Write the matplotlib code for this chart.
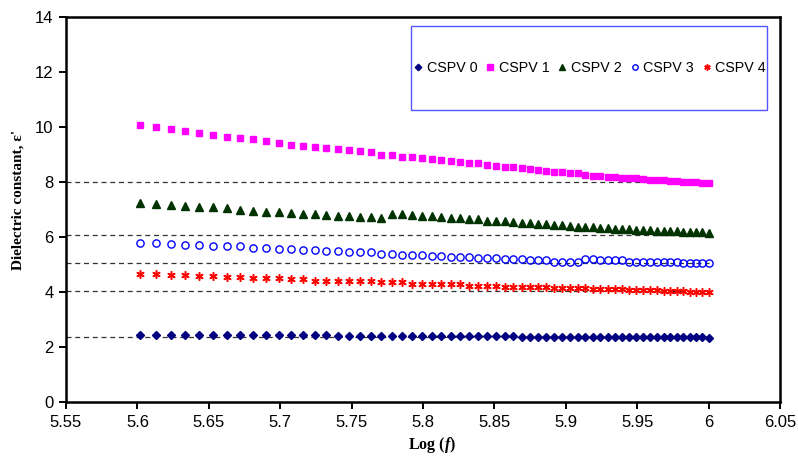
import numpy as np
import matplotlib
matplotlib.use("Agg")
import matplotlib.pyplot as plt
from matplotlib.patches import Rectangle

plt.rcParams["font.family"] = ["Liberation Sans", "DejaVu Sans"]
plt.rcParams["mathtext.fontset"] = "custom"
plt.rcParams["mathtext.it"] = "Liberation Serif:italic:bold"
plt.rcParams["mathtext.rm"] = "Liberation Serif:bold"

# measurement frequencies (kHz)
freq_khz = [400, 410, 420, 430, 440, 450, 460, 470, 480, 490,
            500, 510, 520, 530, 540, 550, 560, 570, 580, 590,
            600, 610, 620, 630, 640, 650, 660, 670, 680, 690,
            700, 710, 720, 730, 740, 750, 760, 770, 780, 790,
            800, 810, 820, 830, 840, 850, 860, 870, 880, 890,
            900, 910, 920, 930, 940, 950, 960, 970, 980, 990, 1000]

cspv0 = [2.44] * 15 + [2.40] * 19 + [2.36] * 26 + [2.32]
cspv1 = [10.05, 10.00, 9.93, 9.84, 9.76, 9.72, 9.64, 9.59, 9.55, 9.48,
         9.43, 9.36, 9.32, 9.28, 9.23, 9.19, 9.15, 9.11, 9.08, 8.99,
         8.99, 8.91, 8.91, 8.86, 8.82, 8.79, 8.75, 8.71, 8.68, 8.68,
         8.63, 8.57, 8.55, 8.55, 8.50, 8.46, 8.42, 8.39, 8.37, 8.35,
         8.31, 8.31, 8.26, 8.23, 8.23, 8.19, 8.19, 8.16, 8.16, 8.13,
         8.12, 8.07, 8.07, 8.07, 8.04, 8.04, 7.99, 7.99, 7.99, 7.95, 7.95]
cspv2 = [7.24, 7.20, 7.15, 7.11, 7.08, 7.08, 7.04, 7.00, 6.96, 6.92,
         6.92, 6.87, 6.84, 6.84, 6.79, 6.75, 6.75, 6.71, 6.71, 6.68,
         6.85, 6.85, 6.80, 6.77, 6.77, 6.73, 6.69, 6.69, 6.65, 6.65,
         6.60, 6.60, 6.57, 6.56, 6.51, 6.51, 6.48, 6.48, 6.45, 6.45,
         6.40, 6.36, 6.36, 6.36, 6.33, 6.33, 6.29, 6.29, 6.29, 6.24,
         6.24, 6.24, 6.22, 6.22, 6.22, 6.22, 6.17, 6.17, 6.17, 6.17, 6.15]
cspv3 = [5.80, 5.80, 5.76, 5.72, 5.72, 5.68, 5.68, 5.66, 5.61, 5.61,
         5.56, 5.56, 5.53, 5.53, 5.49, 5.48, 5.44, 5.44, 5.44, 5.40,
         5.40, 5.36, 5.36, 5.36, 5.32, 5.32, 5.28, 5.28, 5.28, 5.24,
         5.24, 5.24, 5.20, 5.19, 5.19, 5.15, 5.15, 5.15, 5.11, 5.11,
         5.11, 5.11, 5.20, 5.20, 5.17, 5.15, 5.15, 5.15, 5.11, 5.11,
         5.11, 5.11, 5.08, 5.08, 5.08, 5.08, 5.04, 5.04, 5.04, 5.04, 5.04]
cspv4 = [4.67, 4.67, 4.63, 4.63, 4.59, 4.59, 4.56, 4.56, 4.51, 4.51,
         4.51, 4.47, 4.47, 4.42, 4.42, 4.42, 4.39, 4.39, 4.39, 4.35,
         4.35, 4.35, 4.31, 4.31, 4.31, 4.28, 4.28, 4.28, 4.24, 4.24,
         4.24, 4.24, 4.20, 4.20, 4.20, 4.20, 4.20, 4.20, 4.16, 4.16,
         4.16, 4.16, 4.16, 4.13, 4.13, 4.13, 4.13, 4.11, 4.08, 4.08,
         4.08, 4.08, 4.08, 4.05, 4.05, 4.05, 4.05, 4.02, 4.02, 3.99, 3.99]

labels = ["CSPV 0", "CSPV 1", "CSPV 2", "CSPV 3", "CSPV 4"]
ref_levels = [8.0, 6.08, 5.05, 4.03, 2.37]   # dashed guide lines

logf = np.log10(np.array(freq_khz) * 1e3)

fig = plt.figure(figsize=(7.98, 4.65), dpi=100)
ax = fig.add_axes([0.0827, 0.1348, 0.8947, 0.8293])

for lv in ref_levels:
    ax.plot([5.55, 6.0], [lv, lv], color="#333333", lw=0.9,
            dashes=(4, 3), zorder=1)

h0, = ax.plot(logf, cspv0, "D", ms=4.4, color="#000080", ls="none", zorder=3)
h1, = ax.plot(logf, cspv1, "s", ms=5.0, color="#FF00FF", ls="none", zorder=3)
h2, = ax.plot(logf, cspv2, "^", ms=6.0, color="#003300", ls="none", zorder=3)
h3, = ax.plot(logf, cspv3, "o", ms=5.2, mfc="none", mec="#0000FF", mew=1.0,
              ls="none", zorder=3)
h4, = ax.plot(logf, cspv4, marker=(6, 2, 0), ms=6.0, color="#FF0000", mew=1.1,
              ls="none", zorder=3)

ax.set_xlim(5.55, 6.05)
ax.set_ylim(0, 14)
ax.set_xticks([5.55, 5.6, 5.65, 5.7, 5.75, 5.8, 5.85, 5.9, 5.95, 6.0, 6.05])
ax.set_xticklabels(["5.55", "5.6", "5.65", "5.7", "5.75", "5.8", "5.85",
                    "5.9", "5.95", "6", "6.05"])
ax.set_yticks(range(0, 15, 2))
ax.tick_params(direction="out", length=5, width=1.4, labelsize=12,
               pad=4)
for sp in ax.spines.values():
    sp.set_linewidth(1.8)
    sp.set_color("black")

fig.text(0.5414, 0.022, r"Log ($f$)", ha="center", va="bottom",
         fontsize=11.5, fontweight="bold", family="Liberation Serif")
fig.text(0.022, 0.57, "Dielectric constant, ε'", rotation=90,
         ha="center", va="center", fontsize=11, fontweight="bold",
         family="Liberation Serif")

# legend box
fig.patches.append(Rectangle((411 / 798, 1 - 110 / 465), 356 / 798, 84 / 465,
                             transform=fig.transFigure, fill=False,
                             edgecolor="#5555ff", lw=1.0))
leg = fig.legend([h0, h1, h2, h3, h4], labels, ncol=5,
                 loc="center", bbox_to_anchor=(590 / 798, 1 - 68 / 465),
                 frameon=False, fontsize=10.3, handlelength=0.6,
                 handletextpad=0.3, columnspacing=0.6, markerscale=0.75)

fig.savefig("out.png", dpi=100)
